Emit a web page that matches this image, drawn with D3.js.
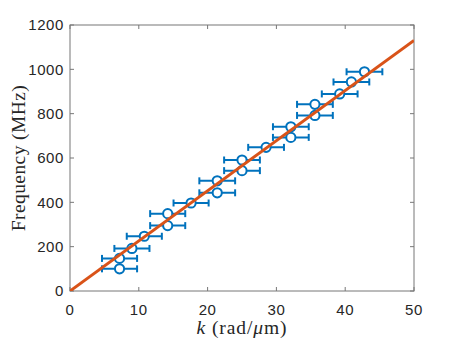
<!DOCTYPE html>
<html>
<head>
<meta charset="utf-8">
<script src="https://cdn.jsdelivr.net/npm/d3@7"></script>
<style>
  body { margin: 0; background: #fff; }
  svg { display: block; }
</style>
</head>
<body>
<div id="chart"></div>
<script>
// measured points: wavenumber k (rad/um), frequency (MHz), horizontal error
var kVals = [7.2, 7.2, 9.0, 10.8, 14.2, 14.2, 17.6, 21.4, 21.4, 25.0, 25.0, 28.5, 32.1, 32.1, 35.6, 35.6, 39.2, 40.9, 42.8];
var freqVals = [100, 147, 192, 247, 295, 349, 397, 443, 497, 543, 591, 648, 693, 741, 792, 842, 889, 943, 989];
var kErr = [2.55, 2.55, 2.55, 2.55, 2.55, 2.55, 2.55, 2.6, 2.6, 2.6, 2.6, 2.6, 2.6, 2.6, 2.6, 2.6, 2.6, 2.6, 2.6];
var fitK = [0, 50];
var fitSlope = 22.6;
var xTicks = [0, 10, 20, 30, 40, 50];
var yTicks = [0, 200, 400, 600, 800, 1000, 1200];

var W = 457, H = 343;
var pL = 70, pR = 414, pT = 25, pB = 291;

var svg = d3.select("#chart").append("svg")
    .attr("width", W).attr("height", H);
svg.append("rect").attr("width", W).attr("height", H).attr("fill", "#fff");

var x = d3.scaleLinear().domain([0, 50]).range([pL, pR]);
var y = d3.scaleLinear().domain([0, 1200]).range([pB, pT]);

var axisCol = "#777";
var textCol = "#262626";

// box
svg.append("rect")
    .attr("x", pL).attr("y", pT)
    .attr("width", pR - pL).attr("height", pB - pT)
    .attr("fill", "none").attr("stroke", axisCol).attr("stroke-width", 1);

// ticks
var tl = 4;
xTicks.forEach(function(t){
  svg.append("line").attr("x1", x(t)).attr("x2", x(t)).attr("y1", pB).attr("y2", pB - tl)
    .attr("stroke", axisCol);
  svg.append("line").attr("x1", x(t)).attr("x2", x(t)).attr("y1", pT).attr("y2", pT + tl)
    .attr("stroke", axisCol);
  svg.append("text").attr("x", x(t)).attr("y", 315)
    .attr("text-anchor", "middle")
    .attr("font-family", "Liberation Sans, Arial, sans-serif")
    .attr("font-size", 15).attr("letter-spacing", 0.6)
    .attr("fill", textCol).text(t);
});
yTicks.forEach(function(t){
  svg.append("line").attr("x1", pL).attr("x2", pL + tl).attr("y1", y(t)).attr("y2", y(t))
    .attr("stroke", axisCol);
  svg.append("line").attr("x1", pR).attr("x2", pR - tl).attr("y1", y(t)).attr("y2", y(t))
    .attr("stroke", axisCol);
  svg.append("text").attr("x", 64).attr("y", y(t) + 5.3)
    .attr("text-anchor", "end")
    .attr("font-family", "Liberation Sans, Arial, sans-serif")
    .attr("font-size", 15).attr("letter-spacing", 0.6)
    .attr("fill", textCol).text(t);
});

var blue = "#0072BD", orange = "#D95319";

// error bars
var pts = kVals.map(function(k, i){ return {k: k, f: freqVals[i], e: kErr[i]}; });
var eb = svg.append("g").attr("stroke", blue).attr("stroke-width", 2).attr("fill", "none");
pts.forEach(function(p){
  var yy = y(p.f);
  eb.append("line").attr("x1", x(p.k - p.e)).attr("x2", x(p.k + p.e)).attr("y1", yy).attr("y2", yy);
  eb.append("line").attr("x1", x(p.k - p.e)).attr("x2", x(p.k - p.e)).attr("y1", yy - 3.5).attr("y2", yy + 3.5);
  eb.append("line").attr("x1", x(p.k + p.e)).attr("x2", x(p.k + p.e)).attr("y1", yy - 3.5).attr("y2", yy + 3.5);
});

// markers
svg.append("g").selectAll("circle").data(pts).join("circle")
    .attr("cx", function(d){ return x(d.k); })
    .attr("cy", function(d){ return y(d.f); })
    .attr("r", 4.6)
    .attr("fill", "#fff").attr("stroke", blue).attr("stroke-width", 2);

// fit line
svg.append("defs").append("clipPath").attr("id", "clip")
  .append("rect").attr("x", pL).attr("y", pT).attr("width", pR - pL).attr("height", pB - pT);
svg.append("path")
    .datum(fitK)
    .attr("clip-path", "url(#clip)")
    .attr("d", d3.line().x(function(k){ return x(k); }).y(function(k){ return y(fitSlope * k); }))
    .attr("stroke", orange).attr("stroke-width", 3).attr("fill", "none");

// axis labels
svg.append("text")
    .attr("transform", "translate(25," + ((pT + pB) / 2) + ") rotate(-90)")
    .attr("text-anchor", "middle")
    .attr("font-family", "Liberation Serif, Times New Roman, serif")
    .attr("font-size", 19.5).attr("letter-spacing", 0.4).attr("fill", textCol)
    .text("Frequency (MHz)");

var xl = svg.append("text")
    .attr("x", (pL + pR) / 2).attr("y", 334)
    .attr("text-anchor", "middle")
    .attr("font-family", "Liberation Serif, Times New Roman, serif")
    .attr("font-size", 19.5).attr("letter-spacing", 0.9).attr("fill", textCol);
xl.append("tspan").attr("font-style", "italic").text("k");
xl.append("tspan").text(" (rad/");
xl.append("tspan").attr("font-style", "italic").text("μ");
xl.append("tspan").text("m)");
</script>
</body>
</html>
